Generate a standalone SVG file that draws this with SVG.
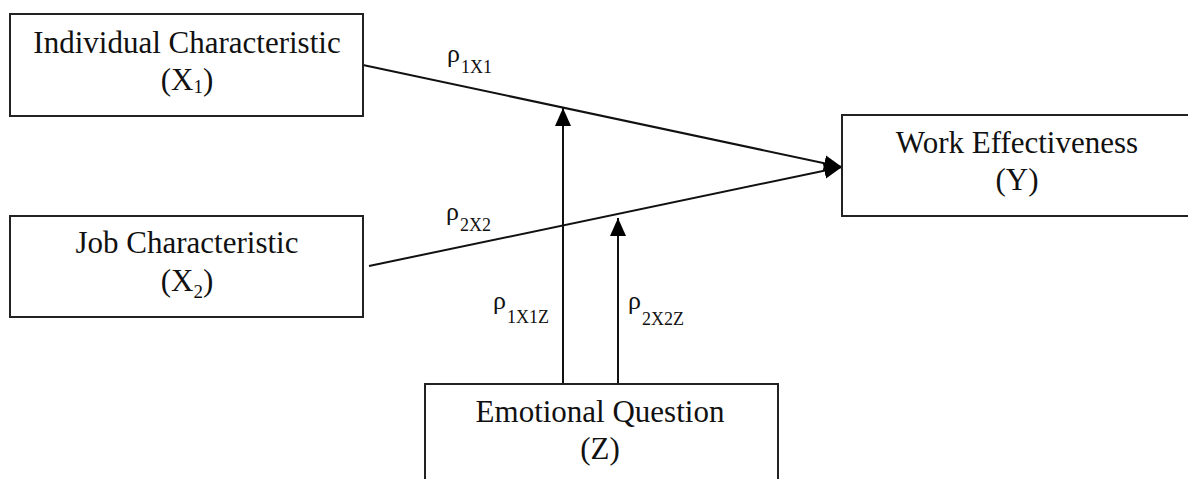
<svg xmlns="http://www.w3.org/2000/svg" width="1188" height="479" viewBox="0 0 1188 479">
<style>
.box{fill:#fff;stroke:#222;stroke-width:2}
.t{font-family:"Liberation Serif","Times New Roman",serif;font-size:31px;fill:#111;text-anchor:middle}
.rho{font-family:"Liberation Serif","Times New Roman",serif;font-size:26px;fill:#111}
.sub{font-family:"Liberation Serif","Times New Roman",serif;font-size:18px;fill:#111}
.ln{stroke:#111;stroke-width:2;fill:none}
</style>
<defs>
<marker id="ah" markerUnits="userSpaceOnUse" markerWidth="20" markerHeight="20" viewBox="0 0 20 20" refX="18" refY="10" orient="auto">
<path d="M0,2 L18,10 L0,18 Z" fill="#000"/>
</marker>
</defs>
<rect width="1188" height="479" fill="#fff"/>
<g id="connectors">
<line class="ln" x1="363" y1="65" x2="842" y2="167" marker-end="url(#ah)"/>
<line class="ln" x1="369" y1="266" x2="842" y2="167" marker-end="url(#ah)"/>
<line class="ln" x1="563" y1="384" x2="563" y2="108" marker-end="url(#ah)"/>
<line class="ln" x1="618" y1="384" x2="618" y2="218" marker-end="url(#ah)"/>
<text class="rho" x="447" y="62">ρ</text><text class="sub" x="461" y="73">1X1</text>
<text class="rho" x="446" y="220">ρ</text><text class="sub" x="460" y="231">2X2</text>
<text class="rho" x="493" y="309">ρ</text><text class="sub" x="507" y="323">1X1Z</text>
<text class="rho" x="628" y="309">ρ</text><text class="sub" x="642" y="325">2X2Z</text>
</g>
<g id="nodeX1">
<rect class="box" x="10" y="14" width="353" height="102"/>
<text class="t" x="187" y="53">Individual Characteristic</text>
<text class="t" x="187" y="90">(X<tspan font-size="19" dy="3">1</tspan><tspan dy="-3">)</tspan></text>
</g>
<g id="nodeX2">
<rect class="box" x="10" y="216" width="353" height="101"/>
<text class="t" x="187" y="253">Job Characteristic</text>
<text class="t" x="187" y="291">(X<tspan font-size="19" dy="7">2</tspan><tspan dy="-7">)</tspan></text>
</g>
<g id="nodeY">
<rect class="box" x="842" y="115" width="350" height="101"/>
<text class="t" x="1017" y="153">Work Effectiveness</text>
<text class="t" x="1017" y="190">(Y)</text>
</g>
<g id="nodeZ">
<rect class="box" x="425" y="384" width="353" height="110"/>
<text class="t" x="600" y="422">Emotional Question</text>
<text class="t" x="600" y="459">(Z)</text>
</g>
</svg>
